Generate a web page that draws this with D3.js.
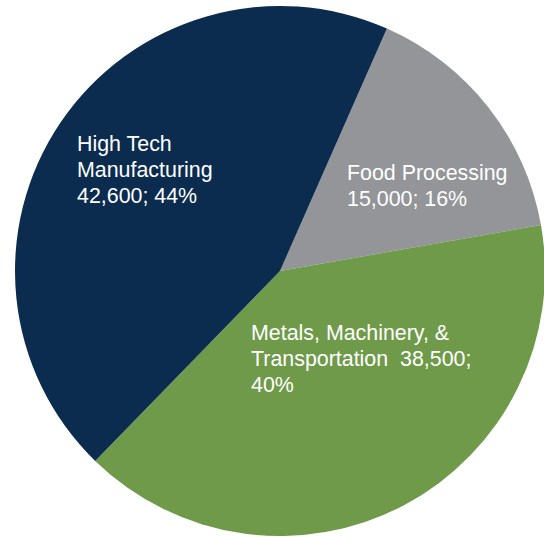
<!DOCTYPE html>
<html>
<head>
<meta charset="utf-8">
<script src="https://cdn.jsdelivr.net/npm/d3@7"></script>
<style>
  html, body { margin: 0; padding: 0; background: #fff; }
  svg { display: block; }
  .label { font-family: "Liberation Sans", Arial, sans-serif; font-size: 21.4px; fill: #fff; white-space: pre; }
</style>
</head>
<body>
<svg id="chart"></svg>
<script>
// Data
const categories = ["Food Processing", "Metals, Machinery, & Transportation", "High Tech Manufacturing"];
const values = [15000, 38500, 42600];
const colors = ["#939598", "#6f9a4a", "#0b2c4f"];
const labelLines = [
    ["Food Processing", "15,000; 16%"],
    ["Metals, Machinery, &", "Transportation  38,500;", "40%"],
    ["High Tech", "Manufacturing", "42,600; 44%"]
];

// Layout
const width = 544, height = 537;
const cx = 280, cy = 271, radius = 265;
const startDeg = 23.8;
// where each label's first baseline sits (relative to pie centre)
const labelPos = [
    { dx: 67, dy: -91 },
    { dx: -29, dy: 69 },
    { dx: -203, dy: -120 }
];
const lineHeight = 26;

const svg = d3.select('#chart')
    .attr('width', width)
    .attr('height', height);

const g = svg.append('g')
    .attr('transform', `translate(${cx}, ${cy})`);

const pie = d3.pie()
    .sort(null)
    .value(d => d)
    .startAngle(startDeg * Math.PI / 180)
    .endAngle(startDeg * Math.PI / 180 + 2 * Math.PI);

const arc = d3.arc()
    .innerRadius(0)
    .outerRadius(radius);

const arcs = pie(values);

g.selectAll('path')
    .data(arcs)
    .enter()
    .append('path')
    .attr('d', arc)
    .attr('fill', (d, i) => colors[i]);

// Labels
const labels = g.selectAll('text.label')
    .data(arcs)
    .enter()
    .append('text')
    .attr('class', 'label')
    .attr('x', (d, i) => labelPos[i].dx)
    .attr('y', (d, i) => labelPos[i].dy);

labels.selectAll('tspan')
    .data((d, i) => labelLines[i].map(t => ({ t, i })))
    .enter()
    .append('tspan')
    .attr('x', d => labelPos[d.i].dx)
    .attr('dy', (d, j) => j === 0 ? 0 : lineHeight)
    .text(d => d.t);
</script>
</body>
</html>
